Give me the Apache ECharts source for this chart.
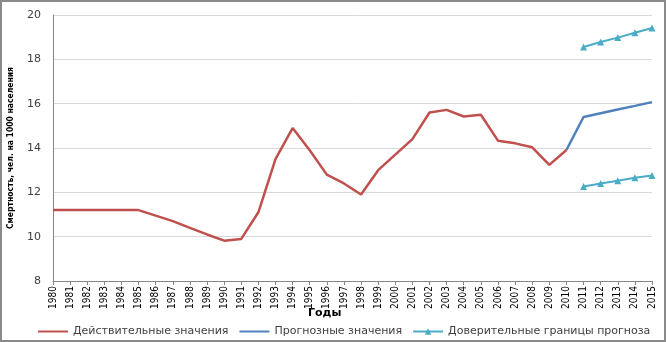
<!doctype html>
<html><head><meta charset="utf-8" />
<style>
  html,body{margin:0;padding:0;background:#ffffff}
  #app{width:666px;height:342px;box-sizing:border-box;border:2px solid #8a8a8a;background:#fff}
</style>
<script src="https://cdn.jsdelivr.net/npm/echarts@6/dist/echarts.min.js"></script>
</head><body><div id="app"></div>
<script>
const years = ['1980','1981','1982','1983','1984','1985','1986','1987','1988','1989','1990','1991','1992','1993','1994','1995','1996','1997','1998','1999','2000','2001','2002','2003','2004','2005','2006','2007','2008','2009','2010','2011','2012','2013','2014','2015'];
// actual values 1980..2010
const actual = [11.2,11.2,11.2,11.2,11.2,11.2,10.95,10.7,10.4,10.1,9.82,9.9,11.1,13.5,14.9,13.9,12.8,12.4,11.9,13.0,13.7,14.4,15.6,15.72,15.42,15.5,14.33,14.21,14.03,13.24,13.91];
// forecast 2010..2015
const forecast = [13.91,15.4,15.57,15.74,15.9,16.07];
const upperBound = [18.56,18.78,18.98,19.2,19.41]; // 2011..2015
const lowerBound = [12.26,12.4,12.52,12.66,12.76]; // 2011..2015

function pad(arr, startYear){
  const off = years.indexOf(startYear);
  return years.map((y,i)=> (i>=off && i-off<arr.length) ? arr[i-off] : null);
}

const chart = echarts.init(document.getElementById('app'));
const narrow = "'Liberation Sans Narrow','DejaVu Sans Condensed',sans-serif";
chart.setOption({
  animation:false,
  backgroundColor:'#ffffff',
  grid:{left:51,right:12,top:13,bottom:59, containLabel:false, outerBoundsMode:'none'},
  legend:{
    bottom:3, left:35, padding:0, itemGap:10, itemWidth:30, itemHeight:8,
    textStyle:{color:'#404040', fontFamily:'DejaVu Sans', fontSize:11},
    data:[
      {name:'Действительные значения', itemStyle:{opacity:0}},
      {name:'Прогнозные значения', itemStyle:{opacity:0}},
      'Доверительные границы прогноза'
    ]
  },
  graphic:[{type:'text', left:306, top:306, style:{text:'Годы', font:"bold 11px 'DejaVu Sans'", fill:'#000'}}],
  xAxis:{
    type:'category', data:years, boundaryGap:false,
    axisLine:{lineStyle:{color:'#868686'}},
    axisTick:{show:true, interval:0, length:4, lineStyle:{color:'#868686'}},
    axisLabel:{interval:0, rotate:90, color:'#000', fontSize:10, fontFamily:narrow, margin:5}
  },
  yAxis:{
    type:'value', min:8, max:20, interval:2,
    name:'Смертность, чел. на 1000 населения', nameLocation:'middle', nameGap:38,
    nameTextStyle:{color:'#000', fontWeight:'bold', fontSize:8.5, fontFamily:narrow},
    axisLine:{show:true, lineStyle:{color:'#868686'}},
    axisTick:{show:false},
    axisLabel:{color:'#404040', fontSize:11, fontFamily:'DejaVu Sans', margin:12},
    splitLine:{lineStyle:{color:'#d9d9d9', width:1}}
  },
  series:[
    {name:'Действительные значения', type:'line', data:pad(actual,'1980'), symbol:'none', lineStyle:{color:'#c0504d', width:2.5}, itemStyle:{color:'#c0504d'}},
    {name:'Прогнозные значения', type:'line', data:pad(forecast,'2010'), symbol:'none', lineStyle:{color:'#4f81bd', width:2.5}, itemStyle:{color:'#4f81bd'}},
    {name:'Доверительные границы прогноза', type:'line', data:pad(upperBound,'2011'), symbol:'triangle', symbolSize:7, lineStyle:{color:'#4bacc6', width:2}, itemStyle:{color:'#4bacc6'}},
    {name:'Доверительные границы прогноза', type:'line', data:pad(lowerBound,'2011'), symbol:'triangle', symbolSize:7, lineStyle:{color:'#4bacc6', width:2}, itemStyle:{color:'#4bacc6'}}
  ]
});
</script></body></html>
